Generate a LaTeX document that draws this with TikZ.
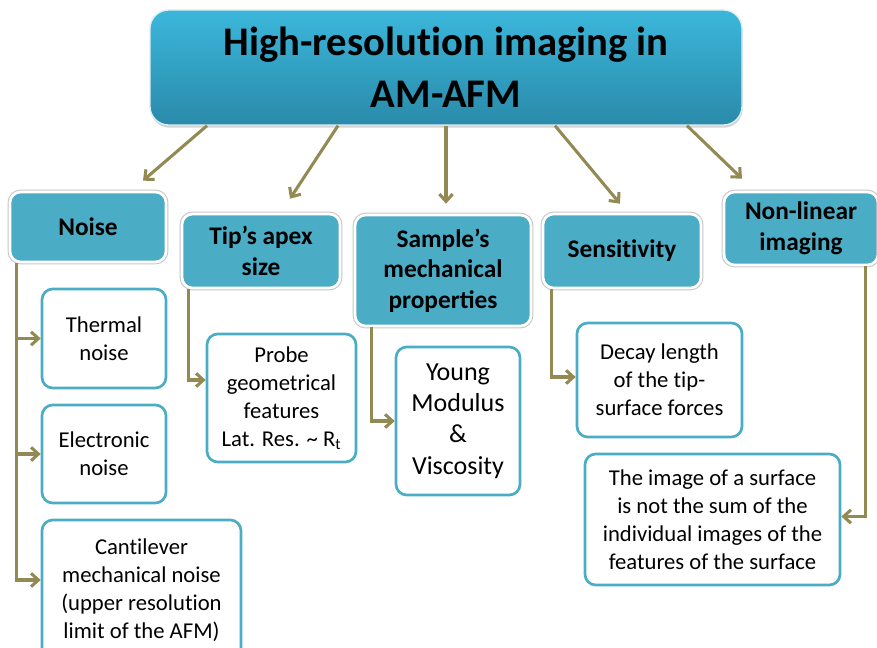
\documentclass[tikz,border=0pt]{standalone}
\usepackage{fontspec}
\setmainfont{Carlito}
\usetikzlibrary{calc,arrows.meta,shadows}

\definecolor{headblue}{HTML}{4BACC6}
\definecolor{olivearrow}{HTML}{938953}
\definecolor{titletop}{HTML}{3BB7DB}
\definecolor{titlebot}{HTML}{2A8AAA}

% t + i without the Carlito ligature
\newcommand{\tiNoLig}{t\kern0pt i}

\tikzset{
  head/.style={draw=white, line width=2pt, fill=headblue, rounded corners=8pt,
    align=center, font=\bfseries\fontsize{19}{23}\selectfont,
    preaction={draw=black!22, line width=3.6pt}},
  leaf/.style={draw=headblue, line width=2pt, fill=white, rounded corners=8pt,
    align=center, font=\fontsize{17}{21}\selectfont},
  arr/.style={draw=olivearrow, line width=2.3pt,
    -{Straight Barb[length=5.5pt,width=10pt,line width=2.3pt]}},
}

\begin{document}
\begin{tikzpicture}[x=0.75pt, y=-0.75pt]  % 1 unit = 1 px of the target
  \useasboundingbox (0,0) rectangle (877,648);

  % title box
  \node (title) at (446,67.5) [rounded corners=14pt, top color=titletop, bottom color=titlebot,
    draw=white!80!headblue, line width=1pt, minimum width=444pt, minimum height=86.25pt,
    align=center, font=\bfseries\fontsize{30.5}{39}\selectfont,
    drop shadow={opacity=0.35, shadow xshift=0.5pt, shadow yshift=-2pt}]
    {High-resolu\tiNoLig on imaging in\\AM-AFM};

  % headings
  \node[head, minimum width=117pt, minimum height=52.5pt] (noise) at (88,227) {Noise};
  \node[head, minimum width=118.5pt, minimum height=55.5pt] (tip) at (261,251) {Tip’s apex\\size};
  \node[head, minimum width=132pt, minimum height=83.25pt] (sample) at (443,270.5) {Sample’s\\mechanical\\properties};
  \node[head, minimum width=118.5pt, minimum height=55.5pt] (sens) at (622,251) {Sensi\tiNoLig vity};
  \node[head, minimum width=115.5pt, minimum height=54.75pt] (nonlin) at (801,228.5) {Non-linear\\imaging};

  % leaves
  \node[leaf, minimum width=93pt, minimum height=74.25pt] (thermal) at (104,338.5) {Thermal\\noise};
  \node[leaf, minimum width=93pt, minimum height=73.5pt] (electronic) at (104,454) {Electronic\\noise};
  \node[leaf, minimum width=149.25pt, minimum height=105pt] (cantilever) at (141.5,590) {Can\tiNoLig lever\\mechanical noise\\(upper resolu\tiNoLig on\\limit of the AFM)};
  \node[leaf, minimum width=111.75pt, minimum height=96pt] (probe) at (281.5,398) {Probe\\geometrical\\features\\Lat. Res. \textasciitilde{} R\textsubscript{t}};
  \node[leaf, minimum width=93pt, minimum height=111pt, font=\fontsize{19.5}{23.5}\selectfont] (young) at (458,421) {Young\\Modulus\\\&\\Viscosity};
  \node[leaf, minimum width=123.75pt, minimum height=85.5pt] (decay) at (659.5,380) {Decay length\\of the \tiNoLig p-\\surface forces};
  \node[leaf, minimum width=191.25pt, minimum height=98.25pt] (image) at (712.5,519.5) {The image of a surface\\is not the sum of the\\individual images of the\\features of the surface};

  % arrows from the title
  \draw[arr] ($(title.south)+(-239,0)$) -- ($(noise.north)+(55,-10)$);
  \draw[arr] ($(title.south)+(-108,0)$) -- ($(tip.north)+(29,-14)$);
  \draw[arr] (title.south) -- ($(sample.north)+(3,-10)$);
  \draw[arr] ($(title.south)+(109,0)$) -- ($(sens.north)+(-2,-9)$);
  \draw[arr] ($(title.south)+(241,0)$) -- ($(nonlin.north)+(-59,-12)$);

  % elbow connectors
  \draw[arr] ($(noise.south west)+(8,0)$) |- (thermal.west);
  \draw[arr] ($(noise.south west)+(8,0)$) |- (electronic.west);
  \draw[arr] ($(noise.south west)+(8,0)$) |- ($(cantilever.west)+(0,-10)$);
  \draw[arr] ($(tip.south west)+(8,0)$) |- ($(probe.west)+(0,-18)$);
  \draw[arr] ($(sample.south west)+(18,0)$) |- (young.west);
  \draw[arr] ($(sens.south west)+(10,0)$) |- ($(decay.west)+(0,-3)$);
  \draw[arr] ($(nonlin.south east)+(-14,0)$) |- ($(image.east)+(0,-3)$);
\end{tikzpicture}
\end{document}
